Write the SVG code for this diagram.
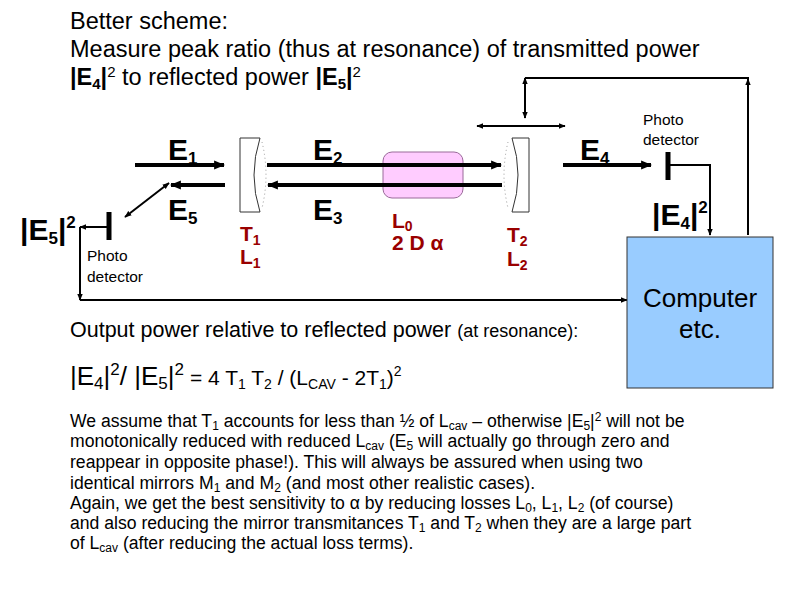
<svg xmlns="http://www.w3.org/2000/svg" width="794" height="595" viewBox="0 0 794 595">
<defs>
<marker id="ah" viewBox="0 0 10 10" refX="9" refY="5" markerWidth="7" markerHeight="7" orient="auto-start-reverse" markerUnits="userSpaceOnUse"><path d="M0,1 L10,5 L0,9 Z" fill="#000"/></marker>
<marker id="ab" viewBox="0 0 10 10" refX="9" refY="5" markerWidth="11" markerHeight="11" orient="auto-start-reverse" markerUnits="userSpaceOnUse"><path d="M0,1 L10,5 L0,9 Z" fill="#000"/></marker>
</defs>
<style>
text{font-family:"Liberation Sans",Arial,sans-serif;fill:#000}
.t{font-size:23.5px}
.e{font-size:30px;font-weight:bold}
.s{font-size:17px;font-weight:bold}
.r{font-size:21px;font-weight:bold;fill:#990000}
.rs{font-size:14px;font-weight:bold;fill:#990000}
.p{font-size:17.6px}
.thin{stroke:#000;stroke-width:2;fill:none}
.thick{stroke:#000;stroke-width:4;fill:none}
</style>
<rect width="794" height="595" fill="#fff"/>
<g id="title">
<text class="t" x="70" y="29">Better scheme:</text>
<text class="t" x="70" y="57">Measure peak ratio (thus at resonance) of transmitted power</text>
<text class="t" x="70" y="85"><tspan font-weight="bold">|E</tspan><tspan font-weight="bold" font-size="15" dy="4">4</tspan><tspan font-weight="bold" dy="-4">|</tspan><tspan font-size="15" dy="-8">2</tspan><tspan dy="8"> to reflected power </tspan><tspan font-weight="bold">|E</tspan><tspan font-weight="bold" font-size="15" dy="4">5</tspan><tspan font-weight="bold" dy="-4">|</tspan><tspan font-size="15" dy="-8">2</tspan></text>
</g>
<g id="pink">
<rect x="383" y="152" width="80" height="46" rx="9" fill="#ffccff" stroke="#9a6a9a" stroke-width="1"/>
</g>
<g id="connectors">
<line class="thick" x1="135" y1="165" x2="224" y2="165" marker-end="url(#ab)"/>
<line class="thick" x1="225" y1="185" x2="171" y2="185" marker-end="url(#ab)"/>
<line class="thin" x1="125" y1="217" x2="169" y2="183" marker-start="url(#ah)" marker-end="url(#ah)"/>
<line class="thick" x1="267" y1="165" x2="501" y2="165" marker-end="url(#ab)"/>
<line class="thick" x1="502" y1="185" x2="268" y2="185" marker-end="url(#ab)"/>
<line class="thick" x1="563" y1="165" x2="651" y2="165" marker-end="url(#ab)"/>
<line class="thin" x1="477" y1="126" x2="565" y2="126" marker-start="url(#ah)" marker-end="url(#ah)"/>
<line class="thin" x1="525" y1="78" x2="525" y2="118" marker-start="url(#ah)" marker-end="url(#ah)"/>
<polyline class="thin" points="748,235 748,78 525,78" />
<line class="thin" x1="748" y1="90" x2="748" y2="79" marker-end="url(#ah)"/>
<polyline class="thin" points="668,165 710,165 710,235" marker-end="url(#ah)"/>
<polyline class="thin" points="109,227 80,227" marker-end="url(#ah)"/>
<polyline class="thin" points="80,227 80,300" marker-end="url(#ah)"/>
<line class="thin" x1="80" y1="300" x2="627" y2="300" marker-end="url(#ah)"/>
</g>
<g id="mirror1">
<path d="M240,138 L260,138 Q248,175 260,212 L240,212 Z" fill="#fff" stroke="#333" stroke-width="1"/>
<path d="M262,142 Q270,175 262,208" fill="none" stroke="#999" stroke-width="1" stroke-dasharray="1,3"/>
</g>
<g id="mirror2">
<path d="M512,138 L529,138 L529,212 L512,212 Q524,175 512,138 Z" fill="#fff" stroke="#333" stroke-width="1"/>
<path d="M508,142 Q500,175 508,208" fill="none" stroke="#999" stroke-width="1" stroke-dasharray="1,3"/>
</g>
<g id="detector1">
<line x1="109" y1="212" x2="109" y2="240" stroke="#000" stroke-width="5"/>
<text x="87" y="261" font-size="15.5">Photo</text>
<text x="87" y="282" font-size="15.5">detector</text>
</g>
<g id="detector2">
<line x1="668" y1="152" x2="668" y2="180" stroke="#000" stroke-width="5"/>
<text x="643" y="125" font-size="15.5">Photo</text>
<text x="643" y="145" font-size="15.5">detector</text>
</g>
<g id="computer">
<rect x="627" y="237" width="146" height="151" fill="#99ccff" stroke="#333" stroke-width="1"/>
<text x="700" y="307" font-size="26" text-anchor="middle">Computer</text>
<text x="700" y="338" font-size="26" text-anchor="middle">etc.</text>
</g>
<g id="labels">
<text class="e" x="168" y="160">E<tspan class="s" dy="4">1</tspan></text>
<text class="e" x="168" y="220">E<tspan class="s" dy="4">5</tspan></text>
<text class="e" x="313" y="160">E<tspan class="s" dy="4">2</tspan></text>
<text class="e" x="313" y="220">E<tspan class="s" dy="4">3</tspan></text>
<text class="e" x="580" y="160">E<tspan class="s" dy="4">4</tspan></text>
<text class="e" x="20" y="240">|E<tspan class="s" dy="4">5</tspan><tspan dy="-4">|</tspan><tspan class="s" dy="-12">2</tspan></text>
<text class="e" x="652" y="225">|E<tspan class="s" dy="4">4</tspan><tspan dy="-4">|</tspan><tspan class="s" dy="-12">2</tspan></text>
<text class="r" x="240" y="241">T<tspan class="rs" dy="4">1</tspan></text>
<text class="r" x="240" y="264">L<tspan class="rs" dy="4">1</tspan></text>
<text class="r" x="392" y="228">L<tspan class="rs" dy="3">0</tspan></text>
<text class="r" x="392" y="250">2 D α</text>
<text class="r" x="507" y="242">T<tspan class="rs" dy="4">2</tspan></text>
<text class="r" x="507" y="266">L<tspan class="rs" dy="4">2</tspan></text>
</g>
<g id="text">
<text x="70" y="337" font-size="21.5">Output power relative to reflected power <tspan font-size="18">(at resonance):</tspan></text>
<text x="70" y="385" font-size="26">|E<tspan font-size="17" dy="4">4</tspan><tspan dy="-4">|</tspan><tspan font-size="17" dy="-10">2</tspan><tspan dy="10">/ |E</tspan><tspan font-size="17" dy="4">5</tspan><tspan dy="-4">|</tspan><tspan font-size="17" dy="-10">2</tspan><tspan dy="10" font-size="21"> = 4 T</tspan><tspan font-size="14" dy="4">1</tspan><tspan font-size="21" dy="-4"> T</tspan><tspan font-size="14" dy="4">2</tspan><tspan font-size="21" dy="-4"> / (L</tspan><tspan font-size="14" dy="4">CAV</tspan><tspan font-size="21" dy="-4"> - 2T</tspan><tspan font-size="14" dy="4">1</tspan><tspan font-size="21" dy="-4">)</tspan><tspan font-size="14" dy="-9">2</tspan></text>
<text class="p" x="70" y="427">We assume that T<tspan font-size="12" dy="3">1</tspan><tspan dy="-3"> accounts for less than ½ of L</tspan><tspan font-size="12" dy="3">cav</tspan><tspan dy="-3"> – otherwise |E</tspan><tspan font-size="12" dy="3">5</tspan><tspan dy="-3">|</tspan><tspan font-size="12" dy="-6">2</tspan><tspan dy="6"> will not be</tspan></text>
<text class="p" x="70" y="447">monotonically reduced with reduced  L<tspan font-size="12" dy="3">cav</tspan><tspan dy="-3"> (E</tspan><tspan font-size="12" dy="3">5</tspan><tspan dy="-3"> will actually go through zero and</tspan></text>
<text class="p" x="70" y="468">reappear in opposite phase!). This will always be assured when using two</text>
<text class="p" x="70" y="489">identical mirrors M<tspan font-size="12" dy="3">1</tspan><tspan dy="-3"> and M</tspan><tspan font-size="12" dy="3">2</tspan><tspan dy="-3"> (and most other realistic cases).</tspan></text>
<text class="p" x="70" y="509">Again, we get the best sensitivity to α by reducing losses L<tspan font-size="12" dy="3">0</tspan><tspan dy="-3">, L</tspan><tspan font-size="12" dy="3">1</tspan><tspan dy="-3">, L</tspan><tspan font-size="12" dy="3">2</tspan><tspan dy="-3"> (of course)</tspan></text>
<text class="p" x="70" y="529">and also reducing the mirror transmitances T<tspan font-size="12" dy="3">1</tspan><tspan dy="-3"> and T</tspan><tspan font-size="12" dy="3">2</tspan><tspan dy="-3"> when they are a large part</tspan></text>
<text class="p" x="70" y="549">of  L<tspan font-size="12" dy="3">cav</tspan><tspan dy="-3"> (after reducing the actual loss terms).</tspan></text>
</g>
</svg>
